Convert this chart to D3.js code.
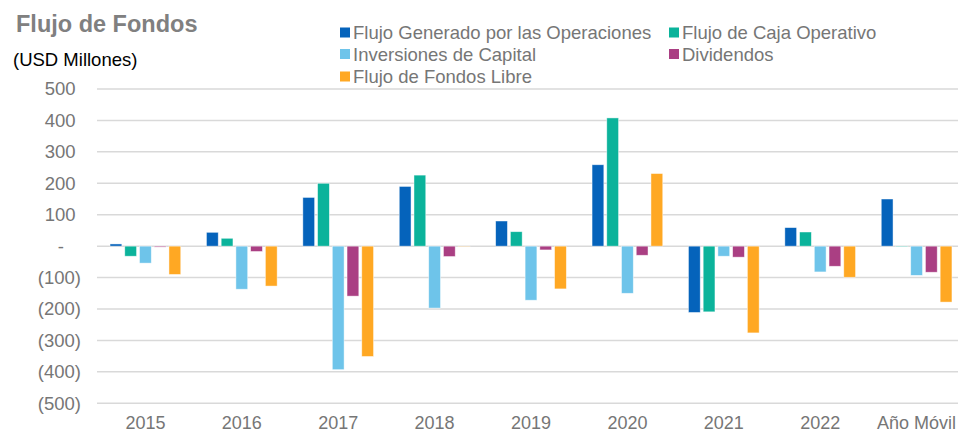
<!DOCTYPE html>
<html><head><meta charset="utf-8">
<script src="https://cdn.jsdelivr.net/npm/d3@7"></script>
<style>body{margin:0;background:#fff}svg{display:block;font-family:"Liberation Sans",Arial,sans-serif}</style>
</head><body><svg id="c" width="958" height="433"></svg>
<script>
const categories = ["2015","2016","2017","2018","2019","2020","2021","2022","Año Móvil"];
const seriesNames = ["Flujo Generado por las Operaciones","Flujo de Caja Operativo","Inversiones de Capital","Dividendos","Flujo de Fondos Libre"];
const flujoGenerado = [7, 44, 155, 190, 80, 259, -211, 59, 150];
const flujoCajaOperativo = [-32, 25, 200, 226, 46, 408, -209, 45, -2];
const inversionesCapital = [-54, -137, -393, -197, -172, -150, -32, -82, -93];
const dividendos = [-3, -17, -159, -33, -12, -29, -35, -64, -83];
const flujoFondosLibre = [-90, -127, -351, -1, -136, 231, -276, -99, -178];
const yTicks = [500,400,300,200,100,0,-100,-200,-300,-400,-500];
const colors = ["#0563BB","#0BB39B","#6EC4EA","#AA3F83","#FFA823"];

const series = [flujoGenerado, flujoCajaOperativo, inversionesCapital, dividendos, flujoFondosLibre];
const svg = d3.select("#c");
const x = d3.scaleBand().domain(categories).range([97.2, 964.8]).paddingInner(0).paddingOuter(0);
const y = d3.scaleLinear().domain([-500, 500]).range([403.3, 89]);
const groupW = 70.7;
const x1 = d3.scaleBand().domain(d3.range(5)).range([0, groupW]).paddingInner(0.2);
const fmt = v => v === 0 ? "-" : v < 0 ? "(" + (-v) + ")" : String(v);
const axisColor = "#767676";
const fontSize = 18.5;

// gridlines
svg.append("g").selectAll("line").data(yTicks).join("line")
  .attr("x1", 97).attr("x2", 958)
  .attr("y1", d => y(d)).attr("y2", d => y(d))
  .attr("stroke", "#D9D9D9").attr("stroke-width", 1.5);

// y axis labels
const yAxis = d3.axisLeft(y).tickValues(yTicks).tickFormat(fmt).tickSize(0).tickPadding(0);
const ya = svg.append("g").attr("transform", "translate(81,0)").call(yAxis);
ya.select(".domain").remove();
ya.selectAll("text").attr("font-size", fontSize).attr("fill", axisColor)
  .attr("font-family", "Liberation Sans, Arial, sans-serif")
  .attr("dx", d => d > 0 ? -5.5 : d === 0 ? -17 : 0);

// bars
const g = svg.append("g");
series.forEach((vals, si) => {
  g.append("g").selectAll("rect").data(vals).join("rect")
    .attr("x", (d, i) => x(categories[i]) + (x.bandwidth() - groupW) / 2 + x1(si))
    .attr("width", x1.bandwidth())
    .attr("y", d => y(Math.max(0, d)))
    .attr("height", d => Math.abs(y(d) - y(0)))
    .attr("fill", colors[si])
    .attr("stroke", "#ffffff").attr("stroke-opacity", 0.6).attr("stroke-width", 0.75);
});

// x axis labels
const xAxis = d3.axisBottom(x).tickSize(0).tickPadding(0);
const xa = svg.append("g").attr("transform", "translate(0,429)").call(xAxis);
xa.select(".domain").remove();
xa.selectAll("text").attr("font-size", 18).attr("fill", axisColor)
  .attr("font-family", "Liberation Sans, Arial, sans-serif").attr("dy", 0);

// title
svg.append("text").attr("x", 16).attr("y", 32).text("Flujo de Fondos")
  .attr("font-size", 23.5).attr("font-weight", "bold").attr("fill", "#808080");
svg.append("text").attr("x", 13).attr("y", 65.5).text("(USD Millones)")
  .attr("font-size", 18.5).attr("fill", "#000");

// legend
const legPos = [[340,39],[669,39],[340,60.5],[669,60.5],[340,83]];
const leg = svg.append("g").selectAll("g").data(seriesNames).join("g")
  .attr("transform", (d, i) => `translate(${legPos[i][0]},${legPos[i][1]})`);
leg.append("rect").attr("x", 0).attr("y", -11.5).attr("width", 10).attr("height", 10).attr("fill", (d, i) => colors[i]);
leg.append("text").attr("x", 13).attr("y", 0).text(d => d).attr("font-size", 18.5).attr("fill", axisColor);
</script></body></html>
